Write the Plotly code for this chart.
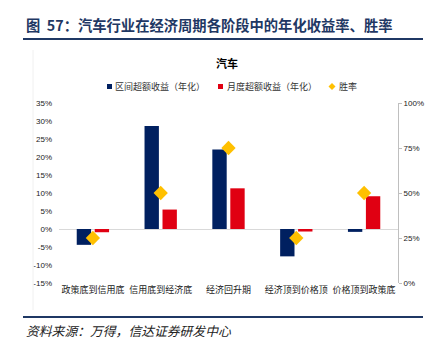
import plotly.graph_objects as go

categories = ["政策底到信用底", "信用底到经济底", "经济回升期", "经济顶到价格顶", "价格顶到政策底"]
interval_excess = [-4.4, 28.6, 22.1, -7.6, -0.8]   # 区间超额收益（年化）, %
monthly_excess = [-0.9, 5.4, 11.3, -0.7, 9.1]      # 月度超额收益（年化）, %
win_rate = [25, 50, 75, 25, 50]                    # 胜率, %
left_ticks = [-15, -10, -5, 0, 5, 10, 15, 20, 25, 30, 35]
right_ticks = [0, 25, 50, 75, 100]

NAVY = "#002060"
RED = "#E00012"
GOLD = "#FFC000"
CJK = "Noto Sans CJK SC"
LAT = "Liberation Sans"

W, H = 437, 351
L, R, T, B = 59, 398, 103, 283

def px(x):
    return (x - L) / (R - L)

def py(y):
    return (B - y) / (B - T)

fig = go.Figure()
fig.add_trace(go.Bar(x=categories, y=interval_excess, name="区间超额收益（年化）",
                     marker=dict(color=NAVY, line=dict(width=0)), showlegend=False))
fig.add_trace(go.Bar(x=categories, y=monthly_excess, name="月度超额收益（年化）",
                     marker=dict(color=RED, line=dict(width=0)), showlegend=False))
fig.add_trace(go.Scatter(x=categories, y=win_rate, name="胜率", yaxis="y2", mode="markers",
                         marker=dict(symbol="diamond", size=11, color=GOLD), showlegend=False))

shapes = [
    dict(type="line", xref="paper", yref="paper", x0=px(23), x1=px(423), y0=py(39), y1=py(39),
         line=dict(color="#1F3864", width=2)),
    dict(type="line", xref="paper", yref="paper", x0=px(23), x1=px(423), y0=py(317), y1=py(317),
         line=dict(color="#1F3864", width=2)),
    dict(type="line", xref="paper", yref="paper", x0=px(33), x1=px(33), y0=py(50), y1=py(310),
         line=dict(color="#f0f0f0", width=1)),
    # legend symbols
    dict(type="rect", xref="paper", yref="paper", x0=px(107), x1=px(112), y0=py(84), y1=py(89),
         fillcolor=NAVY, line=dict(width=0)),
    dict(type="rect", xref="paper", yref="paper", x0=px(218), x1=px(223), y0=py(84), y1=py(89),
         fillcolor=RED, line=dict(width=0)),
    dict(type="path", xref="paper", yref="paper",
         path=f"M {px(332)} {py(83)} L {px(335.5)} {py(86.5)} L {px(332)} {py(90)} L {px(328.5)} {py(86.5)} Z",
         fillcolor=GOLD, line=dict(width=0)),
]

annotations = [
    dict(text="<b>图  57：汽车行业在经济周期各阶段中的年化收益率、胜率</b>", x=px(24), y=py(24),
         xref="paper", yref="paper", xanchor="left", yanchor="middle", showarrow=False,
         font=dict(family=CJK, size=14.3, color="#1F3864")),
    dict(text="<b>汽车</b>", x=px(227), y=py(63), xref="paper", yref="paper",
         xanchor="center", yanchor="middle", showarrow=False,
         font=dict(family=CJK, size=11, color="#000000")),
    dict(text="区间超额收益（年化）", x=px(113), y=py(86.5), xref="paper", yref="paper",
         xanchor="left", yanchor="middle", showarrow=False,
         font=dict(family=CJK, size=9, color="#333333")),
    dict(text="月度超额收益（年化）", x=px(225), y=py(86.5), xref="paper", yref="paper",
         xanchor="left", yanchor="middle", showarrow=False,
         font=dict(family=CJK, size=9, color="#333333")),
    dict(text="胜率", x=px(337), y=py(86.5), xref="paper", yref="paper",
         xanchor="left", yanchor="middle", showarrow=False,
         font=dict(family=CJK, size=9, color="#333333")),
    dict(text="<i>资料来源：万得，信达证券研发中心</i>", x=px(24), y=py(330), xref="paper", yref="paper",
         xanchor="left", yanchor="middle", showarrow=False,
         font=dict(family=CJK, size=12.8, color="#222222")),
]

fig.update_layout(
    width=W, height=H,
    margin=dict(l=L, r=W - R, t=T, b=H - B),
    paper_bgcolor="white", plot_bgcolor="white",
    barmode="group", bargap=0.47, bargroupgap=0.2,
    showlegend=False,
    shapes=shapes, annotations=annotations,
    xaxis=dict(showgrid=False, showline=False, ticks="",
               tickfont=dict(family=CJK, size=9, color="#222222")),
    yaxis=dict(range=[-15, 35], tickvals=left_ticks, ticktext=[f"{v}%" for v in left_ticks],
               showgrid=False, showline=False, ticks="", ticklabelstandoff=6,
               zeroline=True, zerolinecolor="#d9d9d9", zerolinewidth=1,
               tickfont=dict(family=LAT, size=8, color="#222222")),
    yaxis2=dict(range=[0, 100], tickvals=right_ticks, ticktext=[f"{v}%" for v in right_ticks],
                overlaying="y", side="right", showgrid=False, zeroline=False,
                showline=True, linecolor="#bfbfbf", linewidth=1,
                ticks="outside", ticklen=3, tickcolor="#bfbfbf",
                tickfont=dict(family=LAT, size=8, color="#222222")),
)

fig.write_html("out.html")
